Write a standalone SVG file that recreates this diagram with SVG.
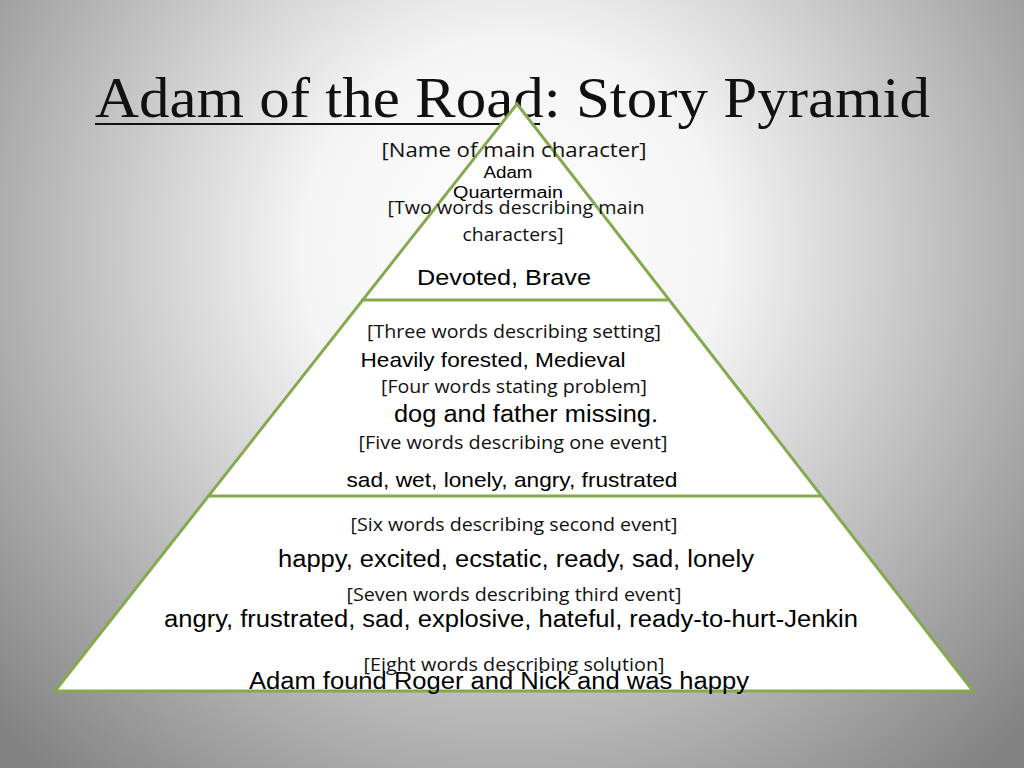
<svg xmlns="http://www.w3.org/2000/svg" width="1024" height="768" viewBox="0 0 1024 768">
<defs>
<radialGradient id="bg" cx="512" cy="250" r="700" gradientUnits="userSpaceOnUse">
<stop offset="0" stop-color="#ffffff"/>
<stop offset="0.3" stop-color="#f4f4f4"/>
<stop offset="1" stop-color="#828282"/>
</radialGradient>
</defs>
<style>
.edge{stroke:#86a94f;stroke-width:3;fill:none}
.lbl{font-family:"Open Sans","Noto Sans",sans-serif;fill:#111;text-anchor:middle}
.ans{font-family:"Liberation Sans",Arial,sans-serif;fill:#000;text-anchor:middle}
.title{font-family:"Liberation Serif","DejaVu Serif",serif;fill:#111}
</style>
<rect width="1024" height="768" fill="url(#bg)"/>
<g id="title">
<text class="title" x="95" y="117" font-size="56" textLength="835" lengthAdjust="spacingAndGlyphs">Adam of the Road: Story Pyramid</text>
<line x1="95" y1="124" x2="540" y2="124" stroke="#111" stroke-width="2"/>
</g>
<g id="pyramid">
<polygon points="517,104 55,691 973,691" fill="#ffffff" stroke="#86a94f" stroke-width="3" stroke-linejoin="miter"/>
</g>
<g id="connectors">
<line class="edge" x1="361" y1="300" x2="668" y2="300"/>
<line class="edge" x1="207" y1="496" x2="822" y2="496"/>
</g>
<g id="top">
<text class="lbl" x="514" y="157" font-size="20" textLength="265" lengthAdjust="spacingAndGlyphs">[Name of main character]</text>
<text class="ans" x="508" y="178" font-size="16" textLength="49" lengthAdjust="spacingAndGlyphs">Adam</text>
<text class="ans" x="508" y="198" font-size="16" textLength="110" lengthAdjust="spacingAndGlyphs">Quartermain</text>
<text class="lbl" x="516" y="214" font-size="19" textLength="257" lengthAdjust="spacingAndGlyphs">[Two words describing main</text>
<text class="lbl" x="513" y="241" font-size="19" textLength="101" lengthAdjust="spacingAndGlyphs">characters]</text>
<text class="ans" x="504" y="285" font-size="22" textLength="174" lengthAdjust="spacingAndGlyphs">Devoted, Brave</text>
</g>
<g id="middle">
<text class="lbl" x="514" y="338" font-size="19" textLength="294" lengthAdjust="spacingAndGlyphs">[Three words describing setting]</text>
<text class="ans" x="493" y="367" font-size="21" textLength="265" lengthAdjust="spacingAndGlyphs">Heavily forested, Medieval</text>
<text class="lbl" x="514" y="393" font-size="19" textLength="266" lengthAdjust="spacingAndGlyphs">[Four words stating problem]</text>
<text class="ans" x="526" y="422" font-size="23" textLength="264" lengthAdjust="spacingAndGlyphs">dog and father missing.</text>
<text class="lbl" x="513" y="449" font-size="19" textLength="309" lengthAdjust="spacingAndGlyphs">[Five words describing one event]</text>
<text class="ans" x="512" y="487" font-size="21" textLength="331" lengthAdjust="spacingAndGlyphs">sad, wet, lonely, angry, frustrated</text>
</g>
<g id="bottom">
<text class="lbl" x="514" y="531" font-size="19" textLength="327" lengthAdjust="spacingAndGlyphs">[Six words describing second event]</text>
<text class="ans" x="516" y="567" font-size="23" textLength="476" lengthAdjust="spacingAndGlyphs">happy, excited, ecstatic, ready, sad, lonely</text>
<text class="lbl" x="514" y="601" font-size="19" textLength="335" lengthAdjust="spacingAndGlyphs">[Seven words describing third event]</text>
<text class="ans" x="511" y="627" font-size="23" textLength="694" lengthAdjust="spacingAndGlyphs">angry, frustrated, sad, explosive, hateful, ready-to-hurt-Jenkin</text>
<text class="lbl" x="514" y="671" font-size="19" textLength="301" lengthAdjust="spacingAndGlyphs">[Eight words describing solution]</text>
<text class="ans" x="499" y="689" font-size="23" textLength="500" lengthAdjust="spacingAndGlyphs">Adam found Roger and Nick and was happy</text>
</g>
</svg>
